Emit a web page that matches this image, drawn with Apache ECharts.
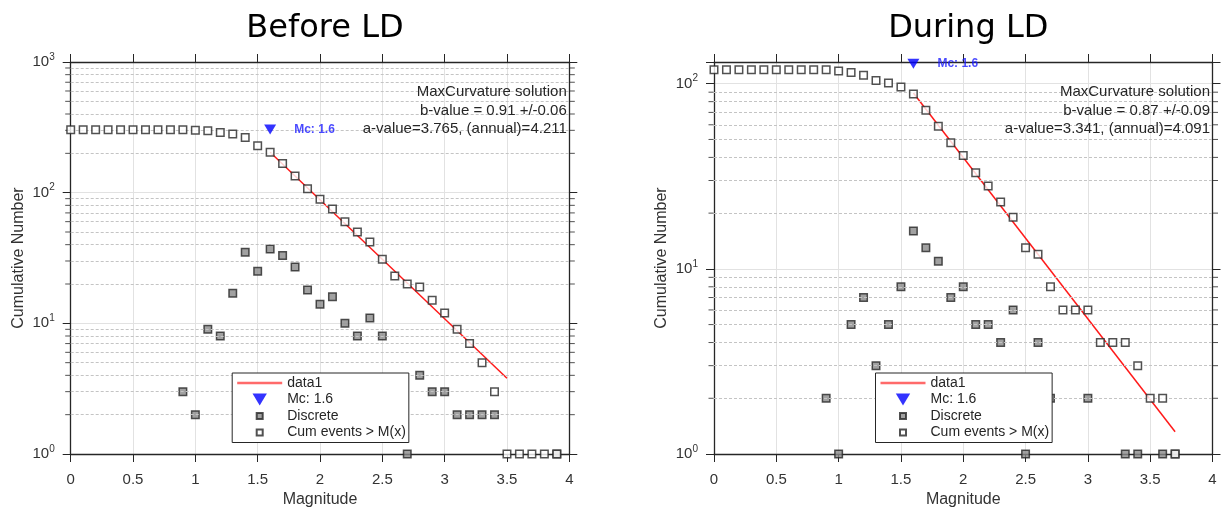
<!DOCTYPE html>
<html>
<head>
<meta charset="utf-8">
<script src="https://cdn.jsdelivr.net/npm/echarts@6/dist/echarts.min.js"></script>
<style>
  html, body { margin: 0; padding: 0; background: #fff; }
  #chart { width: 1225px; height: 511px; }
</style>
</head>
<body>
<div id="chart"></div>
<script>
// ---- Before LD ----
const magsBefore = [0, 0.1, 0.2, 0.3, 0.4, 0.5, 0.6, 0.7, 0.8, 0.9, 1.0, 1.1, 1.2, 1.3, 1.4, 1.5, 1.6, 1.7, 1.8, 1.9,
  2.0, 2.1, 2.2, 2.3, 2.4, 2.5, 2.6, 2.7, 2.8, 2.9, 3.0, 3.1, 3.2, 3.3, 3.4, 3.5, 3.6, 3.7, 3.8, 3.9];
const cumBefore = [303, 303, 303, 303, 303, 303, 303, 303, 303, 303, 300, 298, 289, 281, 264, 229, 204, 167, 134, 107,
  89, 75, 60, 50, 42, 31, 23, 20, 19, 15, 12, 9, 7, 5, 3, 1, 1, 1, 1, 1];
const discMagsBefore = [0.9, 1.0, 1.1, 1.2, 1.3, 1.4, 1.5, 1.6, 1.7, 1.8, 1.9, 2.0, 2.1, 2.2, 2.3, 2.4, 2.5, 2.6, 2.7,
  2.8, 2.9, 3.0, 3.1, 3.2, 3.3, 3.4, 3.9];
const discBefore = [3, 2, 9, 8, 17, 35, 25, 37, 33, 27, 18, 14, 16, 10, 8, 11, 8, 3, 1, 4, 3, 3, 2, 2, 2, 2, 1];
const fitMagsBefore = [1.6, 3.5];
const fitBefore = [204, 3.8];
const mcBefore = [1.6, 304];
const notesBefore = ['MaxCurvature solution', 'b-value = 0.91 +/-0.06', 'a-value=3.765, (annual)=4.211'];

// ---- During LD ----
const magsDuring = [0, 0.1, 0.2, 0.3, 0.4, 0.5, 0.6, 0.7, 0.8, 0.9, 1.0, 1.1, 1.2, 1.3, 1.4, 1.5, 1.6, 1.7, 1.8, 1.9,
  2.0, 2.1, 2.2, 2.3, 2.4, 2.5, 2.6, 2.7, 2.8, 2.9, 3.0, 3.1, 3.2, 3.3, 3.4, 3.5, 3.6, 3.7];
const cumDuring = [119, 119, 119, 119, 119, 119, 119, 119, 119, 119, 117, 115, 111, 104, 101, 96, 88, 72, 59, 48,
  41, 33, 28, 23, 19, 13, 12, 8, 6, 6, 6, 4, 4, 4, 3, 2, 2, 1];
const discMagsDuring = [0.9, 1.0, 1.1, 1.2, 1.3, 1.4, 1.5, 1.6, 1.7, 1.8, 1.9, 2.0, 2.1, 2.2, 2.3, 2.4, 2.5, 2.6, 2.7,
  3.0, 3.3, 3.4, 3.6, 3.7];
const discDuring = [2, 1, 5, 7, 3, 5, 8, 16, 13, 11, 7, 8, 5, 5, 4, 6, 1, 4, 2, 2, 1, 1, 1, 1];
const fitMagsDuring = [1.6, 3.7];
const fitDuring = [89, 1.32];
const mcDuring = [1.6, 128];
const notesDuring = ['MaxCurvature solution', 'b-value = 0.87 +/-0.09', 'a-value=3.341, (annual)=4.091'];

// log minor ticks / dashed grid
const minorY = [2, 3, 4, 5, 6, 7, 8, 9, 20, 30, 40, 50, 60, 70, 80, 90, 200, 300, 400, 500, 600, 700, 800, 900];

const AXIS = '#262626';
const FONT = '"Liberation Sans", Arial, sans-serif';
const TRI = 'path://M0,0 L12,0 L6,10 Z';
const SQ_ICON = 'path://M0,0 M12,12 M3,3 L9,3 L9,9 L3,9 Z';
const LINE_ICON = 'path://M0,0 M45,12 M0,4.8 L45,4.8 L45,7.2 L0,7.2 Z';

const zip = (xs, ys) => xs.map((x, i) => [x, ys[i]]);

const panels = [
  {
    title: 'Before LD', left: 70.7, width: 498.6, ymax: 1000,
    mags: magsBefore, cum: cumBefore, discMags: discMagsBefore, disc: discBefore,
    fitMags: fitMagsBefore, fit: fitBefore, mc: mcBefore, notes: notesBefore
  },
  {
    title: 'During LD', left: 714, width: 498.5, ymax: 131,
    mags: magsDuring, cum: cumDuring, discMags: discMagsDuring, disc: discDuring,
    fitMags: fitMagsDuring, fit: fitDuring, mc: mcDuring, notes: notesDuring
  }
];
const TOP = 62;
const HEIGHT = 392;

const powLabel = v => {
  const e = Math.log10(v);
  if (Math.abs(e - Math.round(e)) > 1e-6) return '';
  return '{b|10}{s|' + Math.round(e) + '}';
};

const grid = [];
const xAxis = [];
const yAxis = [];
const series = [];
const legend = [];
const title = [];
const graphic = [];

panels.forEach((p, i) => {
  grid.push({ left: p.left, top: TOP, width: p.width, height: HEIGHT, containLabel: false, outerBoundsMode: 'none' });

  title.push({
    text: p.title,
    left: p.left + p.width / 2,
    top: 8,
    textAlign: 'center',
    textStyle: { fontFamily: '"DejaVu Sans", Verdana, sans-serif', fontSize: 32, fontWeight: 'normal', color: '#000' }
  });

  const axisLine = { show: true, onZero: false, lineStyle: { color: AXIS, width: 1.3 } };
  const axisTick = { show: true, length: 8, lineStyle: { color: AXIS, width: 1 } };

  xAxis.push({
    gridIndex: i, type: 'value', min: 0, max: 4, interval: 0.5, position: 'bottom',
    name: 'Magnitude', nameLocation: 'middle', nameGap: 38,
    nameTextStyle: { fontSize: 16, color: '#333', fontFamily: FONT },
    axisLine, axisTick,
    axisLabel: { margin: 18, fontSize: 15, color: '#333', fontFamily: FONT },
    splitLine: { show: true, lineStyle: { color: '#e2e2e2', width: 1 } }
  });
  xAxis.push({
    gridIndex: i, type: 'value', min: 0, max: 4, interval: 0.5, position: 'top',
    axisLine, axisTick, axisLabel: { show: false }, splitLine: { show: false }
  });

  const rich = {
    b: { fontSize: 15, color: '#333', fontFamily: FONT, lineHeight: 20 },
    s: { fontSize: 10, color: '#333', fontFamily: FONT, verticalAlign: 'top', lineHeight: 20 }
  };
  yAxis.push({
    gridIndex: i, type: 'log', logBase: 10, min: 1, max: p.ymax, position: 'left',
    name: 'Cumulative Number', nameLocation: 'middle', nameGap: 44,
    nameTextStyle: { fontSize: 16, color: '#333', fontFamily: FONT },
    axisLine, axisTick,
    axisLabel: { margin: 16, formatter: powLabel, rich },
    splitLine: { show: true, lineStyle: { color: '#e2e2e2', width: 1 } }
  });
  yAxis.push({
    gridIndex: i, type: 'log', logBase: 10, min: 1, max: p.ymax, position: 'right',
    axisLine, axisTick, axisLabel: { show: false }, splitLine: { show: false }
  });

  const xi = i * 2;
  const yi = i * 2;
  const minors = minorY.filter(v => v < p.ymax);

  // minor ticks outside left and right axes
  series.push({
    type: 'scatter', xAxisIndex: xi, yAxisIndex: yi, silent: true, clip: false,
    symbol: 'rect', symbolSize: [5, 1], symbolOffset: [-3, 0],
    itemStyle: { color: AXIS }, data: minors.map(v => [0, v]), z: 1
  });
  series.push({
    type: 'scatter', xAxisIndex: xi, yAxisIndex: yi, silent: true, clip: false,
    symbol: 'rect', symbolSize: [5, 1], symbolOffset: [3, 0],
    itemStyle: { color: AXIS }, data: minors.map(v => [4, v]), z: 1
  });

  series.push({
    name: 'data1', type: 'line', xAxisIndex: xi, yAxisIndex: yi,
    data: zip(p.fitMags, p.fit), symbol: 'none', showSymbol: false, silent: true,
    lineStyle: { color: '#ff1a1a', width: 1.5 }, itemStyle: { color: '#ff1a1a' }, z: 3
  });
  series.push({
    name: 'Discrete', type: 'scatter', xAxisIndex: xi, yAxisIndex: yi, clip: false,
    data: zip(p.discMags, p.disc), symbol: 'rect', symbolSize: 7.5,
    itemStyle: { color: '#8a8a8a', borderColor: AXIS, borderWidth: 1.5 }, z: 4,
    markLine: {
      silent: true, symbol: ['none', 'none'], label: { show: false }, animation: false,
      lineStyle: { color: '#c4c4c4', type: [3, 2], width: 1 },
      data: minors.map(v => ({ yAxis: v }))
    }
  });
  series.push({
    name: 'Cum events > M(x)', type: 'scatter', xAxisIndex: xi, yAxisIndex: yi, clip: false,
    data: zip(p.mags, p.cum), symbol: 'rect', symbolSize: 7.5,
    itemStyle: { color: '#fff', borderColor: AXIS, borderWidth: 1.5 }, z: 5
  });
  series.push({
    name: 'Mc: 1.6', type: 'scatter', xAxisIndex: xi, yAxisIndex: yi, clip: false,
    data: [p.mc], symbol: TRI, symbolSize: [12, 10],
    itemStyle: { color: '#0000ff' }, z: 6,
    label: {
      show: true, position: 'right', distance: 18, formatter: 'Mc: 1.6',
      color: '#1a1aff', fontWeight: 'bold', fontSize: 12, fontFamily: FONT
    }
  });

  legend.push({
    orient: 'vertical', left: p.left + 161.5, top: 373, z: 20,
    itemWidth: 45, itemHeight: 12, itemGap: 2.5, padding: [3, 3, 3, 5],
    backgroundColor: '#fff', borderColor: AXIS, borderWidth: 1, borderRadius: 0,
    selectedMode: false,
    textStyle: { fontSize: 14, color: '#262626', fontFamily: FONT },
    data: [
      { name: 'data1', icon: LINE_ICON, itemStyle: { color: '#ff6a6a', borderWidth: 0 } },
      { name: 'Mc: 1.6', icon: TRI, itemStyle: { color: '#0000ff', borderWidth: 0 } },
      { name: 'Discrete', icon: SQ_ICON },
      { name: 'Cum events > M(x)', icon: SQ_ICON }
    ]
  });

  graphic.push({
    type: 'text',
    x: p.left + p.width - 2.5,
    y: 83,
    z: 10,
    style: {
      text: p.notes.join('\n'),
      align: 'right', verticalAlign: 'top',
      fontSize: 15, fontFamily: FONT, lineHeight: 18.3, fill: '#262626'
    }
  });
});

const chart = echarts.init(document.getElementById('chart'));
chart.setOption({
  animation: false,
  backgroundColor: '#fff',
  textStyle: { fontFamily: FONT },
  title,
  grid,
  xAxis,
  yAxis,
  legend,
  graphic,
  series
});
</script>
</body>
</html>
